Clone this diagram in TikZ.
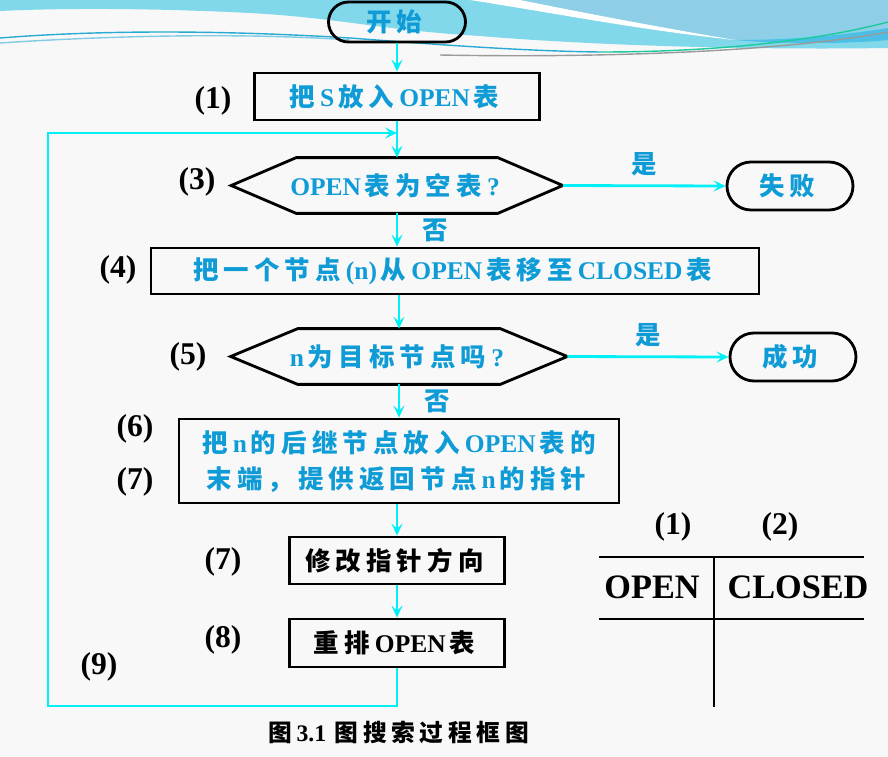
\documentclass[tikz,border=0pt]{standalone}
\usepackage{fontspec}
\setmainfont{Liberation Serif}
\newfontfamily\cjk{Noto Sans CJK SC}
\usepackage{tikz}
\usetikzlibrary{arrows.meta}
\definecolor{searchBlue}{HTML}{0E9BD6}
\definecolor{searchCyan}{HTML}{00F0F6}
\definecolor{pageGray}{HTML}{F8F8F8}
\definecolor{waveBlue}{HTML}{80D8EA}
\definecolor{waveSky}{HTML}{8ECEE6}
\definecolor{waveDeep}{HTML}{4DBFE6}
\definecolor{waveLine}{HTML}{2AAAD2}
\definecolor{waveGreen}{HTML}{1FC99E}
\definecolor{waveGray}{HTML}{9A9A9A}
% latin words and spaced hanzi runs
\newcommand{\latn}[1]{{\rmfamily\bfseries #1}\kern0.15em}
\let\zsend\relax
\newcommand{\zs}[1]{\zsloop#1\zsend}
\def\zsloop#1{\ifx#1\zsend\else#1\kern0.2em\expandafter\zsloop\fi}
\tikzset{
  flow/.style={-{Stealth[length=2.4mm,width=2.2mm,inset=1mm]},
    line width=1.6pt, draw=searchCyan},
  box line/.style={draw=black, line width=1.6pt},
  zh text/.style={text=searchBlue, execute at end node=\unkern,
    font=\cjk\bfseries\fontsize{14.5}{20.5}\selectfont},
  proc box/.style={box line, zh text, inner sep=0pt, align=center},
  black box/.style={proc box, text=black},
  decision/.style={zh text, inner sep=0pt},
  terminal/.style={box line, zh text, rounded corners=4.8mm, inner sep=0pt},
  answer/.style={zh text},
  num label/.style={font=\bfseries\fontsize{18}{20}\selectfont},
  table text/.style={font=\bfseries\fontsize{19.5}{22}\selectfont}
}

\begin{document}
\begin{tikzpicture}[x=0.2mm, y=-0.2mm]
  \useasboundingbox (0,0) rectangle (888,757);
  \fill[pageGray] (0,0) rectangle (888,757);
  % slide background wave
  \fill[waveBlue] (0,0) -- (888,0) -- (888,48)
    .. controls (760,50) and (600,46) .. (480,36)
    .. controls (380,30) and (340,18) .. (250,13)
    .. controls (150,8) and (60,8) .. (0,11) -- cycle;
  \fill[waveSky] (500,0) -- (888,0) -- (888,28)
    .. controls (820,36) and (760,40) .. (735,40)
    .. controls (640,26) and (560,8) .. (520,0) -- cycle;
  \fill[white] (470,0) .. controls (560,14) and (640,30) .. (735,40)
    .. controls (640,24) and (560,8) .. (520,0) -- cycle;
  \fill[waveDeep] (735,40) .. controls (800,40) and (850,34) .. (888,28)
    -- (888,40) .. controls (850,44) and (780,44) .. (735,40) -- cycle;
  \draw[waveLine, line width=0.8pt] (0,38) .. controls (100,30) and (220,30) .. (350,38)
    .. controls (430,44) and (520,51) .. (600,52);
  \draw[waveGreen, line width=0.8pt] (600,52) .. controls (720,52) and (820,40) .. (888,22);
  \draw[waveLine!60, line width=0.8pt] (0,43) .. controls (120,35) and (250,33) .. (350,40);
  \draw[waveGray, line width=0.8pt] (440,55) .. controls (600,58) and (780,52) .. (888,32);

  \node[terminal, rounded corners=4mm, minimum width=27.4mm, minimum height=8mm]
    (start) at (397,22) {\zs{开始}};
  \node[proc box, minimum width=57mm, minimum height=9.4mm]
    (b1) at (397,96.5) {\zs{把}\latn{S}\zs{放入}\latn{OPEN}\zs{表}};
  \node[decision, minimum width=66.2mm, minimum height=11mm]
    (d3) at (397,185.5) {\latn{OPEN}\zs{表为空表}\latn{?}};
  \draw[box line] (d3.west) -- ([xshift=13mm]d3.north west)
    -- ([xshift=-13mm]d3.north east) -- (d3.east)
    -- ([xshift=-13mm]d3.south east) -- ([xshift=13mm]d3.south west) -- cycle;
  \node[terminal, minimum width=25.2mm, minimum height=9.6mm]
    (fail) at (790,186) {\zs{失败}};
  \node[proc box, minimum width=121.6mm, minimum height=9.2mm]
    (b4) at (455,271) {\zs{把一个节点}\latn{(n)}\zs{从}\latn{OPEN}\zs{表移至}\latn{CLOSED}\zs{表}};
  \node[decision, minimum width=67.2mm, minimum height=11mm]
    (d5) at (399,356.5) {\latn{n}\zs{为目标节点吗}\latn{?}};
  \draw[box line] (d5.west) -- ([xshift=13.4mm]d5.north west)
    -- ([xshift=-13.4mm]d5.north east) -- (d5.east)
    -- ([xshift=-13.4mm]d5.south east) -- ([xshift=13.4mm]d5.south west) -- cycle;
  \node[terminal, minimum width=25.2mm, minimum height=9.6mm]
    (succ) at (793,357) {\zs{成功}};
  \node[proc box, minimum width=88mm, minimum height=16.8mm]
    (b6) at (399,461) {\zs{把}\latn{n}\zs{的后继节点放入}\latn{OPEN}\zs{表的}\unkern\\
    \zs{末端，提供返回节点}\latn{n}\zs{的指针}};
  \node[black box, minimum width=43mm, minimum height=9.4mm]
    (b7) at (397,560.5) {\zs{修改指针方向}};
  \node[black box, minimum width=43mm, minimum height=9.6mm]
    (b8) at (397,643) {\zs{重排}\latn{OPEN}\zs{表}};

  \node[num label] (n1) at (213,101) {(1)};
  \node[num label] (n3) at (197,182) {(3)};
  \node[num label] (n4) at (118,270) {(4)};
  \node[num label] (n5) at (188,357) {(5)};
  \node[num label] (n6) at (135,429) {(6)};
  \node[num label] (n7a) at (135,482) {(7)};
  \node[num label] (n7b) at (223,562) {(7)};
  \node[num label] (n8) at (223,640) {(8)};
  \node[num label] (n9) at (99,667) {(9)};

  \coordinate (loop bottom) at (48,706);
  \coordinate (loop top) at (48,133);
  \coordinate (merge) at (397,133);
  \draw[flow] (start) -- (b1);
  \draw[flow] (b1) -- (d3);
  \draw[flow] (d3.east) -- node[answer, above=0.6mm] {是} (fail.west);
  \draw[flow] (d3.south) -- node[answer, right=3.6mm] {否} (d3.south |- b4.north);
  \draw[flow] (d5.north |- b4.south) -- (d5.north);
  \draw[flow] (d5.east) -- node[answer, above=0.6mm] {是} (succ.west);
  \draw[flow] (d5.south) -- node[answer, right=3.6mm] {否} (d5.south |- b6.north);
  \draw[flow] (b6.south -| b7) -- (b7);
  \draw[flow] (b7) -- (b8);
  \draw[flow] (b8.south) |- (loop bottom) -- (loop top) -- (merge);

  \node[num label] (col1) at (673,527) {(1)};
  \node[num label] (col2) at (780,527) {(2)};
  \node[table text] (open head) at (652,587) {OPEN};
  \node[table text] (closed head) at (798,587) {CLOSED};
  \draw[line width=0.6pt] (599,557) -- (864,557) (599,619) -- (864,619)
    (714,557) -- (714,707);

  \node[zh text, text=black, font=\cjk\bfseries\fontsize{13.5}{15}\selectfont]
    (caption) at (401,732) {\zs{图}\latn{3.1}\kern0.2em\zs{图搜索过程框图}};
\end{tikzpicture}
\end{document}
